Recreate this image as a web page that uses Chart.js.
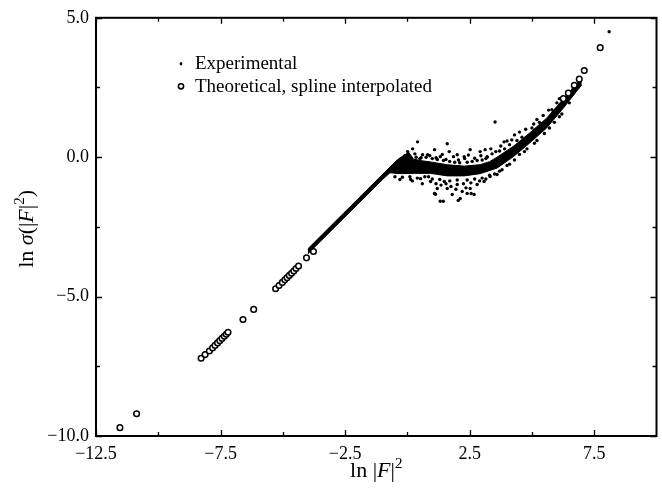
<!DOCTYPE html>
<html>
<head>
<meta charset="utf-8">
<script src="https://cdn.jsdelivr.net/npm/chart.js@4/dist/chart.umd.min.js"></script>
<style>
  html, body { margin: 0; padding: 0; background: #fff; }
  #c { display: block; }
</style>
</head>
<body>
<canvas id="c" width="662" height="489"></canvas>
<script>
// ---- Data ----
// Tick values
const xTickVals = [-12.5, -7.5, -2.5, 2.5, 7.5];
const xMinorVals = [-10, -5, 0, 5];
const yTickVals = [5, 0, -5, -10];
const yMinorVals = [2.5, -2.5, -7.5];

// Theoretical (spline interpolated) points - open circles
const theoX = [-11.54, -10.87, -8.28, -8.12, -7.95, -7.82, -7.72, -7.62, -7.53, -7.44, -7.35, -7.27, -7.20,
  -6.60, -6.17, -5.29, -5.15, -5.02, -4.92, -4.83, -4.74, -4.65, -4.56, -4.47, -4.37, -4.05, -3.77,
  6.26, 6.46, 6.70, 6.90, 7.10, 7.74];
const theoY = [-9.70, -9.20, -7.21, -7.08, -6.95, -6.84, -6.75, -6.66, -6.58, -6.50, -6.42, -6.35, -6.28,
  -5.82, -5.46, -4.72, -4.60, -4.49, -4.40, -4.32, -4.24, -4.16, -4.08, -3.99, -3.90, -3.61, -3.38,
  2.10, 2.30, 2.58, 2.80, 3.11, 3.93];

// Experimental: dense band of points, upper and lower edges
const bandUpX = [-4.0, -3.0, -2.0, -1.0, -0.4, 0.05, 0.25, 0.6, 0.93, 1.6, 2.28, 2.92, 3.3, 3.6, 4.27, 4.91, 5.59, 6.27, 6.78, 7.0];
const bandUpY = [-3.29, -2.40, -1.51, -0.62, -0.09, 0.18, -0.07, -0.13, -0.17, -0.27, -0.32, -0.27, -0.16, 0.0, 0.40, 0.87, 1.40, 2.10, 2.64, 2.83];
const bandLoX = [-4.0, -3.0, -2.0, -1.0, -0.7, -0.3, 0.29, 0.93, 1.6, 2.28, 2.92, 3.6, 4.27, 4.91, 5.59, 6.27, 6.78, 7.0];
const bandLoY = [-3.47, -2.58, -1.69, -0.80, -0.56, -0.59, -0.58, -0.58, -0.67, -0.67, -0.59, -0.39, 0.03, 0.51, 1.05, 1.77, 2.35, 2.59];

// Experimental: scattered individual points
const expX = [0.41, 0.21, 1.09, 1.60, 1.68, 2.00, 2.52, 2.92, 3.12, 3.52, 3.88, 4.19, 5.07, 5.67, 0.81, 1.32, 2.28, 3.20, 0.01, 0.61,
  1.09, 1.32, 1.60, 1.80, 2.12, 2.40, 2.52, 2.80, 2.00, 1.48, 0.93, 0.53, 0.13, 3.08, 3.32, 3.60, 1.20, 2.20, 2.68, 1.44, 2.04, 1.13, 2.56,
  0.0, 0.35, 0.55, 0.75, 1.0, 1.2, 1.45, 1.7, 1.9, 2.1, 2.4, 2.6, 2.8, 3.0, 3.2, 3.4, 3.7, 3.9, 4.1, 4.4, 4.6, 5.0, 5.3, 5.8, 6.0,
  -0.5, -0.2, 0.1, 0.4, 0.7, 1.0, 1.3, 1.7, 2.0, 2.4, 2.7, 3.0, 3.3, 3.8, 4.1, 4.5, 4.8, 5.2, 5.5, 5.9, 6.2, 6.5,
  0.3, 0.5, 0.9, 1.15, 1.4, 1.55, 1.85, 2.05, 2.3, 2.45, 2.7, 2.95, 3.15, 3.35, 3.55, 3.75, 4.0, 4.3, 4.5, 4.75, 5.2, 5.45, 6.1,
  -0.3, 0.2, 0.6, 0.85, 1.15, 1.35, 1.55, 1.75, 1.95, 2.25, 2.35, 2.55, 2.9, 3.15, 3.5, 3.7, 4.0, 4.3, 4.7, 5.1, 5.7, 6.1,
  -0.5, -0.25, 0.05, -0.1, 3.99, 8.10];
const expY = [0.55, 0.30, 0.27, 0.48, 0.20, 0.09, 0.27, 0.20, 0.27, 1.26, 0.55, 0.62, 1.19, 1.69, 0.09, 0.02, 0.02, 0.02, 0.20, 0.09,
  -1.30, -1.58, -1.12, -1.34, -1.48, -1.30, -1.12, -0.98, -0.98, -0.87, -0.87, -0.77, -0.80, -0.87, -0.69, -0.62, -1.12, -1.23, -1.34, -1.58, -1.55, -1.33, -1.30,
  0.05, 0.0, -0.02, 0.0, -0.05, -0.08, -0.12, -0.15, -0.18, -0.2, -0.18, -0.15, -0.12, -0.1, 0.0, 0.12, 0.22, 0.3, 0.45, 0.6, 0.72, 1.05, 1.25, 1.7, 1.95,
  -0.7, -0.72, -0.7, -0.75, -0.7, -0.78, -0.8, -0.85, -0.82, -0.82, -0.78, -0.75, -0.65, -0.45, -0.25, 0.1, 0.3, 0.6, 0.85, 1.25, 1.55, 1.95,
  0.12, -0.05, 0.05, -0.02, 0.1, -0.08, 0.02, -0.1, -0.05, 0.08, -0.04, 0.05, -0.05, 0.3, 0.2, 0.4, 0.58, 0.8, 0.9, 1.0, 1.35, 1.5, 2.1,
  -0.8, -0.85, -0.95, -0.7, -0.95, -1.0, -0.95, -1.05, -1.15, -0.95, -1.1, -0.92, -0.85, -0.78, -0.6, -0.5, -0.3, -0.1, 0.2, 0.5, 1.05, 1.45,
  -0.25, -0.05, -0.1, 0.05, -0.05, 4.50];

const legendLabels = ["Experimental", "Theoretical, spline interpolated"];

// ---- Build chart ----
const pts = (xs, ys) => xs.map((x, i) => ({ x: x, y: ys[i] }));
const SERIF = "'Liberation Serif', 'Times New Roman', serif";
const fmt = v => (v < 0 ? '\u2212' : '') + Math.abs(v).toFixed(1);

function drawRich(ctx, pieces, cx, cy) {
  let total = 0;
  pieces.forEach(p => { ctx.font = p.font; p.w = ctx.measureText(p.t).width; total += p.w; });
  let x = cx - total / 2;
  pieces.forEach(p => { ctx.font = p.font; ctx.fillText(p.t, x, cy + (p.dy || 0)); x += p.w; });
}

const decor = {
  id: 'decor',
  afterDraw(chart) {
    const ctx = chart.ctx;
    const a = chart.chartArea;
    const xs = chart.scales.x, ys = chart.scales.y;
    ctx.save();
    ctx.strokeStyle = '#000';
    ctx.fillStyle = '#000';
    // frame
    ctx.lineWidth = 2;
    ctx.strokeRect(a.left, a.top, a.right - a.left, a.bottom - a.top);
    // ticks
    ctx.lineWidth = 1.3;
    ctx.beginPath();
    const xt = (v, len) => {
      const p = Math.round(xs.getPixelForValue(v)) + 0.5;
      ctx.moveTo(p, a.bottom); ctx.lineTo(p, a.bottom - len);
      ctx.moveTo(p, a.top); ctx.lineTo(p, a.top + len);
    };
    const yt = (v, len) => {
      const p = Math.round(ys.getPixelForValue(v)) + 0.5;
      ctx.moveTo(a.left, p); ctx.lineTo(a.left + len, p);
      ctx.moveTo(a.right, p); ctx.lineTo(a.right - len, p);
    };
    xTickVals.forEach(v => xt(v, 6));
    xMinorVals.forEach(v => xt(v, 4));
    yTickVals.forEach(v => yt(v, 6));
    yMinorVals.forEach(v => yt(v, 4));
    ctx.stroke();

    // legend
    const lx = a.left + 85;
    ctx.textBaseline = 'alphabetic';
    ctx.textAlign = 'left';
    ctx.font = "19px " + SERIF;
    ctx.beginPath();
    ctx.ellipse(lx, a.top + 46, 1.3, 1.7, 0, 0, Math.PI * 2);
    ctx.fill();
    ctx.fillText(legendLabels[0], lx + 14, a.top + 51);
    ctx.beginPath();
    ctx.lineWidth = 1.6;
    ctx.arc(lx, a.top + 68.5, 2.6, 0, Math.PI * 2);
    ctx.stroke();
    ctx.fillText(legendLabels[1], lx + 14, a.top + 74);

    // x axis title: ln |F|^2
    const f = n => n + "px " + SERIF;
    const fi = n => "italic " + n + "px " + SERIF;
    drawRich(ctx, [
      { t: "ln |", font: f(22) },
      { t: "F", font: fi(22) },
      { t: "|", font: f(22) },
      { t: "2", font: f(15), dy: -9 }
    ], (a.left + a.right) / 2, 477);

    // y axis title: ln sigma(|F|^2)
    ctx.save();
    ctx.translate(33, (a.top + a.bottom) / 2 + 2);
    ctx.rotate(-Math.PI / 2);
    drawRich(ctx, [
      { t: "ln ", font: f(22) },
      { t: "\u03C3", font: fi(22) },
      { t: "(|", font: f(22) },
      { t: "F", font: fi(22) },
      { t: "|", font: f(22) },
      { t: "2", font: f(15), dy: -9 },
      { t: ")", font: f(22) }
    ], 0, 0);
    ctx.restore();
    ctx.restore();
  }
};

new Chart(document.getElementById('c'), {
  type: 'scatter',
  data: {
    datasets: [
      {
        label: legendLabels[1],
        data: pts(theoX, theoY),
        pointStyle: 'circle',
        pointRadius: 2.8,
        pointBorderWidth: 1.5,
        pointBackgroundColor: '#fff',
        pointBorderColor: '#000',
        order: 0
      },
      {
        label: legendLabels[0],
        data: pts(expX, expY),
        pointStyle: 'circle',
        pointRadius: 1.7,
        pointBorderWidth: 0,
        pointBackgroundColor: '#000',
        pointBorderColor: '#000',
        order: 1
      },
      {
        label: 'band-low',
        data: pts(bandLoX, bandLoY),
        showLine: true,
        pointRadius: 0,
        borderColor: '#000',
        borderWidth: 1,
        fill: false,
        order: 2
      },
      {
        label: 'band-up',
        data: pts(bandUpX, bandUpY),
        showLine: true,
        pointRadius: 0,
        borderColor: '#000',
        borderWidth: 1,
        backgroundColor: '#000',
        fill: '-1',
        order: 3
      }
    ]
  },
  options: {
    responsive: false,
    animation: false,
    devicePixelRatio: 1,
    layout: { padding: { top: 15, right: 3, left: 0, bottom: 0 } },
    plugins: {
      legend: { display: false },
      tooltip: { enabled: false },
      filler: { propagate: false }
    },
    scales: {
      x: {
        type: 'linear',
        min: -12.5,
        max: 10,
        afterBuildTicks: s => { s.ticks = xTickVals.map(v => ({ value: v })); },
        afterFit: s => { s.height = 53; },
        grid: { display: false, drawTicks: false },
        border: { display: false },
        ticks: {
          callback: v => fmt(v),
          color: '#000',
          font: { family: SERIF, size: 18 },
          padding: 7,
          maxRotation: 0,
          autoSkip: false
        }
      },
      y: {
        type: 'linear',
        min: -10,
        max: 5,
        afterBuildTicks: s => { s.ticks = yTickVals.map(v => ({ value: v })); },
        afterFit: s => { s.width = 96; },
        grid: { display: false, drawTicks: false },
        border: { display: false },
        ticks: {
          callback: v => fmt(v),
          color: '#000',
          font: { family: SERIF, size: 18 },
          padding: 7,
          autoSkip: false
        }
      }
    }
  },
  plugins: [decor]
});
</script>
</body>
</html>
